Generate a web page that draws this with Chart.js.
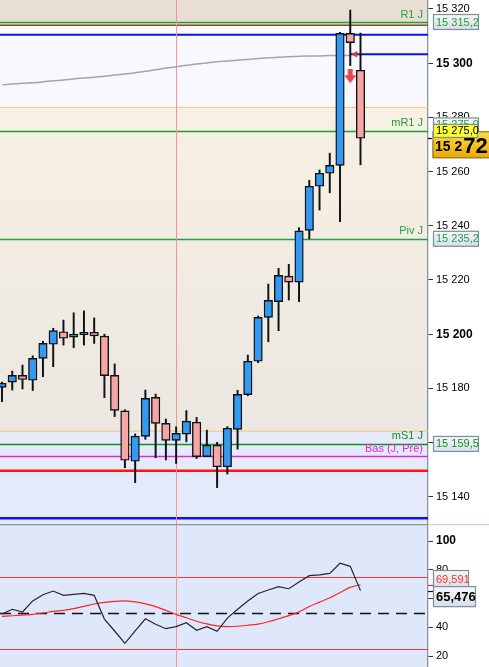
<!DOCTYPE html>
<html lang="fr">
<head>
<meta charset="utf-8"/>
<title>Bougies 1 min + RSI</title>
<style>
  body, html { margin: 0; padding: 0; background: #fff; }
  .pane { position: relative; width: 489px; }
  canvas { display: block; }
</style>
</head>
<body>
<div class="pane"><canvas id="chartPrix" width="489" height="524"></canvas></div>
<div class="pane"><canvas id="chartRsi" width="489" height="143"></canvas></div>
<script src="https://cdn.jsdelivr.net/npm/chart.js"></script>
<script>
// --- données ---
const ouverture = [15180.4, 15182.3, 15184.8, 15183.0, 15191.1, 15196.3, 15200.9, 15198.9, 15199.8, 15200.7,
  15199.3, 15184.8, 15171.7, 15153.1, 15162.3, 15176.7, 15167.1, 15160.8, 15163.1, 15167.5,
  15154.8, 15159.0, 15151.1, 15164.9, 15177.7, 15190.0, 15206.2, 15212.0, 15221.4, 15219.2,
  15238.3, 15254.6, 15259.4, 15262.3, 15311.0, 15297.4];
const haut = [15182.3, 15186.4, 15188.6, 15192.0, 15197.4, 15202.2, 15205.2, 15207.9, 15208.6, 15206.0,
  15200.0, 15189.0, 15172.1, 15163.2, 15179.4, 15177.9, 15168.7, 15165.8, 15171.8, 15169.3,
  15164.6, 15160.1, 15165.9, 15179.3, 15192.3, 15206.7, 15218.5, 15224.3, 15225.8, 15239.3,
  15256.8, 15260.6, 15266.8, 15311.4, 15319.6, 15311.1];
const bas = [15175.1, 15179.4, 15179.8, 15179.2, 15184.3, 15188.0, 15196.0, 15195.0, 15196.0, 15196.6,
  15176.6, 15169.6, 15150.7, 15145.2, 15161.2, 15154.4, 15153.6, 15152.3, 15160.3, 15154.1,
  15154.8, 15143.4, 15148.4, 15157.6, 15177.3, 15189.5, 15197.2, 15201.3, 15212.6, 15212.0,
  15235.2, 15245.8, 15252.2, 15241.5, 15299.1, 15262.5];
const cloture = [15181.9, 15184.8, 15183.3, 15191.1, 15196.6, 15201.3, 15198.5, 15200.0, 15200.7, 15199.4,
  15184.7, 15171.9, 15153.5, 15162.4, 15176.3, 15167.1, 15160.8, 15163.4, 15167.9, 15154.8,
  15159.0, 15151.1, 15165.3, 15177.8, 15190.0, 15206.2, 15212.5, 15221.7, 15219.2, 15238.1,
  15254.6, 15259.4, 15262.3, 15311.0, 15307.6, 15272.3];
const moyenneGrise = [15292.0, 15292.3, 15292.6, 15292.8, 15293.1, 15293.5, 15293.8, 15294.2, 15294.5, 15294.8,
  15295.2, 15295.6, 15296.0, 15296.5, 15297.0, 15297.6, 15298.2, 15298.7, 15299.2, 15299.7,
  15300.1, 15300.5, 15300.8, 15301.1, 15301.4, 15301.7, 15302.0, 15302.2, 15302.4, 15302.6,
  15302.7, 15302.7, 15302.8, 15302.8, 15302.9];

const pivotNoms = ['R1 J', 'mR1 J', 'Piv J', 'mS1 J', 'Bas (J, Pré)'];
const pivotValeurs = [15315.2, 15275.0, 15235.2, 15159.5, 15154.9];
const autresNiveaux = [15314.0, 15310.5, 15303.3, 15283.7, 15164.2, 15149.6, 15132.1];
const autresDebut = [0, 0, 34, 0, 0, 0, 0];
const zonesBornes = [15314.0, 15283.7, 15164.2];
const signalIndex = [34];
const signalPrix = [15295.2];
const repereVertical = 17;
const prixTicks = [15140, 15160, 15180, 15200, 15220, 15240, 15260, 15280, 15300, 15320];

const rsi = [49.2, 52.5, 50.6, 58.3, 62.6, 65.2, 62.2, 62.9, 63.6, 62.2,
  45.7, 37.4, 28.8, 37.4, 45.9, 42.1, 39.0, 40.4, 43.2, 37.9,
  40.4, 37.2, 46.4, 52.5, 58.3, 63.5, 65.9, 68.2, 66.8, 71.5,
  75.9, 76.5, 77.5, 84.5, 82.4, 65.476];
const rsiMoyenne = [47.5, 48.0, 48.5, 49.0, 49.9, 51.0, 51.8, 53.0, 54.5, 56.2,
  57.3, 58.0, 58.3, 57.6, 56.3, 54.4, 51.7, 49.0, 46.6, 44.2,
  42.3, 40.9, 40.5, 40.7, 41.4, 42.2, 43.8, 45.9, 48.1, 50.7,
  54.4, 57.5, 60.5, 64.2, 67.7, 69.591];
const rsiNiveaux = [75, 50, 25];
const rsiTicks = [20, 30, 40, 50, 60, 70, 80, 90, 100];

// --- réglages ---
const FAMILLE = '"Liberation Sans", Arial, sans-serif';
const xMin = -0.195, xMax = 41.59;
const pivotCouleurs = ['#21a038', '#1f9e35', '#22a04a', '#14901c', '#e024e0'];
const autresCouleurs = ['#8b4a1c', '#0a12f2', '#0a12f2', '#f6c27c', '#f6c27c', '#ff1212', '#0a12f2'];
const autresEpaisseurs = [1.5, 2.2, 2.2, 1, 1, 2.6, 2.6];

function groupe(s) { return s.replace(/\B(?=(\d{3})+(?!\d))/g, ' '); }
function fmtDec(v, d) { const p = v.toFixed(d).split('.'); return groupe(p[0]) + ',' + p[1]; }

function boite(ctx, x, yc, w, h, fond, bord, texte, coul, police) {
  ctx.save();
  let f = fond;
  if (!f) {
    f = ctx.createLinearGradient(0, yc - h / 2, 0, yc + h / 2);
    f.addColorStop(0, '#f6f8fb');
    f.addColorStop(1, '#d6dee8');
  }
  ctx.fillStyle = f;
  ctx.fillRect(x, yc - h / 2, w, h);
  ctx.strokeStyle = bord;
  ctx.lineWidth = 1.2;
  ctx.strokeRect(x + 0.5, yc - h / 2 + 0.5, w - 1, h - 1);
  if (texte) {
    ctx.fillStyle = coul;
    ctx.font = police;
    ctx.textBaseline = 'middle';
    ctx.textAlign = 'left';
    ctx.fillText(texte, x + 3, yc + 0.5);
  }
  ctx.restore();
}

function fleche() {
  const c = document.createElement('canvas');
  c.width = 12; c.height = 14;
  const g = c.getContext('2d');
  g.fillStyle = '#e8474a';
  g.beginPath();
  g.moveTo(3.5, 0); g.lineTo(8.5, 0); g.lineTo(8.5, 6); g.lineTo(12, 6);
  g.lineTo(6, 14); g.lineTo(0, 6); g.lineTo(3.5, 6); g.closePath();
  g.fill();
  return c;
}

// axe de droite : largeur fixe, pas de marge automatique
function ajusteAxe(s) {
  s.width = 61;
  s.paddingTop = 0;
  s.paddingBottom = 0;
}

const lignePlugin = {
  id: 'repere',
  beforeDatasetsDraw(chart) {
    const { ctx, chartArea: a, scales: { x } } = chart;
    const px = Math.round(x.getPixelForValue(repereVertical)) + 0.5;
    ctx.save();
    ctx.strokeStyle = '#f59494';
    ctx.lineWidth = 1;
    ctx.beginPath(); ctx.moveTo(px, a.top); ctx.lineTo(px, a.bottom); ctx.stroke();
    ctx.restore();
  }
};

const prixPlugin = {
  id: 'prixDecor',
  beforeDraw(chart) {
    const { ctx, chartArea: a, scales: { y } } = chart;
    ctx.save();
    ctx.fillStyle = '#fff';
    ctx.fillRect(0, 0, chart.width, chart.height);
    const b0 = y.getPixelForValue(zonesBornes[0]);
    const b1 = y.getPixelForValue(zonesBornes[1]);
    const b2 = y.getPixelForValue(zonesBornes[2]);
    ctx.fillStyle = '#e8ded4';
    ctx.fillRect(a.left, a.top, a.width, b0 - a.top);
    ctx.fillStyle = '#f8f9fe';
    ctx.fillRect(a.left, b0, a.width, b1 - b0);
    const g = ctx.createLinearGradient(0, b1, 0, b2);
    g.addColorStop(0, '#f7f0e3');
    g.addColorStop(1, '#ebe7e1');
    ctx.fillStyle = g;
    ctx.fillRect(a.left, b1, a.width, b2 - b1);
    ctx.fillStyle = '#e4eafa';
    ctx.fillRect(a.left, b2, a.width, a.bottom - b2);
    ctx.restore();
  },
  beforeDatasetsDraw(chart) {
    const { ctx, chartArea: a, scales: { x, y } } = chart;
    ctx.save();
    autresNiveaux.forEach((v, i) => {
      const py = y.getPixelForValue(v);
      const x0 = autresDebut[i] ? x.getPixelForValue(autresDebut[i]) : a.left;
      ctx.strokeStyle = autresCouleurs[i];
      ctx.lineWidth = autresEpaisseurs[i];
      ctx.beginPath(); ctx.moveTo(x0, py); ctx.lineTo(a.right, py); ctx.stroke();
    });
    pivotValeurs.forEach((v, i) => {
      const py = Math.round(y.getPixelForValue(v)) + 0.5;
      ctx.strokeStyle = pivotCouleurs[i];
      ctx.lineWidth = 1.3;
      ctx.beginPath(); ctx.moveTo(a.left, py); ctx.lineTo(a.right, py); ctx.stroke();
    });
    ctx.restore();
  },
  afterDraw(chart) {
    const { ctx, chartArea: a, scales: { y } } = chart;
    ctx.save();
    // libellés des pivots
    ctx.font = '11px ' + FAMILLE;
    ctx.textAlign = 'right';
    ctx.textBaseline = 'bottom';
    pivotValeurs.forEach((v, i) => {
      ctx.fillStyle = pivotCouleurs[i];
      ctx.fillText(pivotNoms[i], a.right - 5, y.getPixelForValue(v) - 2);
    });
    ctx.restore();
    const bx = a.right + 5;
    const police = '11px ' + FAMILLE;
    [0, 2, 3].forEach(i => {
      boite(ctx, bx, y.getPixelForValue(pivotValeurs[i]), 46, 16, null, '#7d8d9b',
        fmtDec(pivotValeurs[i], 1), pivotCouleurs[i], police);
    });
    // mR1 décalé, puis dernier cours, puis repère jaune
    boite(ctx, bx, y.getPixelForValue(pivotValeurs[1]) - 6, 46, 15, null, '#7d8d9b',
      fmtDec(pivotValeurs[1], 1), pivotCouleurs[1], police);
    const dernier = cloture[cloture.length - 1];
    const yd = y.getPixelForValue(dernier);
    const go = ctx.createLinearGradient(0, yd - 7, 0, yd + 20);
    go.addColorStop(0, '#ffdb45');
    go.addColorStop(1, '#eba800');
    boite(ctx, bx - 0.5, yd + 6.5, 60, 27, go, '#8c7a3a', '', '#000', police);
    ctx.save();
    const txt = fmtDec(dernier, 1);
    ctx.fillStyle = '#000';
    ctx.textBaseline = 'alphabetic';
    ctx.textAlign = 'left';
    ctx.font = 'bold 14px ' + FAMILLE;
    ctx.fillText(txt.slice(0, 4), bx + 2, yd + 13);
    const w1 = ctx.measureText(txt.slice(0, 4)).width;
    ctx.font = 'bold 22px ' + FAMILLE;
    ctx.fillText(txt.slice(4), bx + 3 + w1, yd + 15);
    ctx.strokeStyle = '#000';
    ctx.lineWidth = 1.2;
    ctx.beginPath(); ctx.moveTo(a.right, Math.round(yd) + 0.5); ctx.lineTo(a.right + 4, Math.round(yd) + 0.5); ctx.stroke();
    ctx.restore();
    boite(ctx, bx, y.getPixelForValue(pivotValeurs[1]), 45, 14, '#ffff2e', '#7d8d9b',
      fmtDec(pivotValeurs[1], 1), '#000', police);
  }
};

const couleurCorps = cloture.map((c, i) => c >= ouverture[i] ? '#3399f3' : '#f6a6a6');

new Chart(document.getElementById('chartPrix'), {
  type: 'bar',
  data: {
    datasets: [
      {
        type: 'line',
        data: moyenneGrise.map((v, i) => ({ x: i, y: v })),
        borderColor: '#a6a6a6', borderWidth: 1.5, pointRadius: 0,
        cubicInterpolationMode: 'monotone', order: 4
      },
      {
        data: haut.map((h, i) => ({ x: i, y: [bas[i], h] })),
        backgroundColor: '#111', barThickness: 1.3, grouped: false, order: 3
      },
      {
        data: ouverture.map((o, i) => ({ x: i, y: [o, cloture[i]] })),
        backgroundColor: couleurCorps, borderColor: '#111', borderWidth: 1.4,
        borderSkipped: false, barThickness: 8.5, grouped: false, order: 2
      },
      {
        type: 'line',
        data: signalIndex.map((s, i) => ({ x: s, y: signalPrix[i] })),
        showLine: false, pointStyle: fleche(), pointRadius: 6, order: 1
      },
      {
        type: 'line',
        data: signalIndex.map(s => ({ x: s + 0.5, y: autresNiveaux[2] })),
        showLine: false, pointStyle: 'triangle', rotation: -90, pointRadius: 3,
        backgroundColor: '#d83a3a', borderColor: '#d83a3a', order: 1
      }
    ]
  },
  options: {
    responsive: false,
    animation: false,
    layout: { padding: 0, autoPadding: false },
    plugins: { legend: { display: false }, tooltip: { enabled: false } },
    scales: {
      x: { type: 'linear', min: xMin, max: xMax, offset: false, display: false },
      y: {
        position: 'right', min: 15129.96, max: 15323.32, beginAtZero: false,
        afterFit: ajusteAxe,
        afterBuildTicks: s => { s.ticks = prixTicks.map(v => ({ value: v })); },
        grid: { drawOnChartArea: false, tickLength: 5, tickColor: '#333', tickWidth: 1 },
        border: { display: true, color: '#8696a4', width: 1.3 },
        ticks: {
          padding: 3, color: '#000',
          font: c => (c.tick && c.tick.value % 100 === 0)
            ? { family: FAMILLE, size: 12, weight: 'bold' }
            : { family: FAMILLE, size: 11 },
          callback: v => groupe(String(v))
        }
      }
    }
  },
  plugins: [prixPlugin, lignePlugin]
});

const rsiPlugin = {
  id: 'rsiDecor',
  beforeDraw(chart) {
    const { ctx, chartArea: a } = chart;
    ctx.save();
    ctx.fillStyle = '#fff';
    ctx.fillRect(0, 0, chart.width, chart.height);
    ctx.fillStyle = '#dfe7fb';
    ctx.fillRect(a.left, a.top, a.width, a.height);
    ctx.restore();
  },
  beforeDatasetsDraw(chart) {
    const { ctx, chartArea: a, scales: { y } } = chart;
    ctx.save();
    rsiNiveaux.forEach(v => {
      const py = Math.round(y.getPixelForValue(v)) + 0.5;
      ctx.strokeStyle = v === 50 ? '#111' : '#ff3030';
      ctx.lineWidth = v === 50 ? 1.4 : 1.2;
      ctx.setLineDash(v === 50 ? [11, 7] : []);
      ctx.beginPath(); ctx.moveTo(a.left, py); ctx.lineTo(a.right, py); ctx.stroke();
    });
    ctx.restore();
  },
  afterDraw(chart) {
    const { ctx, chartArea: a, scales: { y } } = chart;
    ctx.save();
    ctx.strokeStyle = '#8796a4';
    ctx.lineWidth = 1.3;
    ctx.beginPath(); ctx.moveTo(0, 0.5); ctx.lineTo(a.right, 0.5); ctx.stroke();
    ctx.strokeStyle = '#c9d0d8';
    ctx.beginPath(); ctx.moveTo(a.right, 0.5); ctx.lineTo(chart.width, 0.5); ctx.stroke();
    const ym = y.getPixelForValue(rsiMoyenne[rsiMoyenne.length - 1]);
    const yr = y.getPixelForValue(rsi[rsi.length - 1]);
    ctx.lineWidth = 1.2;
    ctx.strokeStyle = '#ff2a2a';
    ctx.beginPath(); ctx.moveTo(a.right, Math.round(ym) + 0.5); ctx.lineTo(a.right + 5, Math.round(ym) + 0.5); ctx.stroke();
    ctx.strokeStyle = '#111';
    ctx.beginPath(); ctx.moveTo(a.right, Math.round(yr) + 0.5); ctx.lineTo(a.right + 5, Math.round(yr) + 0.5); ctx.stroke();
    ctx.restore();
    boite(ctx, a.right + 5, ym - 5.7, 36, 18, null, '#7d8d9b',
      fmtDec(rsiMoyenne[rsiMoyenne.length - 1], 3), '#ff2a2a', '11px ' + FAMILLE);
    boite(ctx, a.right + 5, yr + 6, 43, 21, null, '#7d8d9b',
      fmtDec(rsi[rsi.length - 1], 3), '#000', 'bold 13px ' + FAMILLE);
  }
};

new Chart(document.getElementById('chartRsi'), {
  type: 'line',
  data: {
    datasets: [
      {
        data: rsi.map((v, i) => ({ x: i, y: v })),
        borderColor: '#262626', borderWidth: 1.2, pointRadius: 0, tension: 0
      },
      {
        data: rsiMoyenne.map((v, i) => ({ x: i, y: v })),
        borderColor: '#ff2424', borderWidth: 1.2, pointRadius: 0,
        cubicInterpolationMode: 'monotone'
      }
    ]
  },
  options: {
    responsive: false,
    animation: false,
    layout: { padding: 0, autoPadding: false },
    plugins: { legend: { display: false }, tooltip: { enabled: false } },
    scales: {
      x: { type: 'linear', min: xMin, max: xMax, offset: false, display: false },
      y: {
        position: 'right', min: 12.35, max: 111.83,
        afterFit: ajusteAxe,
        afterBuildTicks: s => { s.ticks = rsiTicks.map(v => ({ value: v })); },
        grid: { drawOnChartArea: false, tickLength: 5, tickColor: '#333', tickWidth: 1 },
        border: { display: true, color: '#8696a4', width: 1.3 },
        ticks: {
          padding: 3, color: '#000',
          font: c => (c.tick && c.tick.value === 100)
            ? { family: FAMILLE, size: 12, weight: 'bold' }
            : { family: FAMILLE, size: 11 },
          callback: v => (v % 20 === 0 ? String(v) : '')
        }
      }
    }
  },
  plugins: [rsiPlugin, lignePlugin]
});
</script>
</body>
</html>
